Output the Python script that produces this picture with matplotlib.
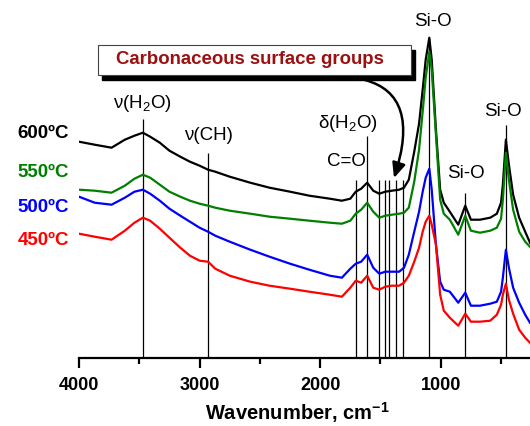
import matplotlib
matplotlib.use("Agg")
import matplotlib.pyplot as plt
from matplotlib.patches import Rectangle
from matplotlib.ticker import MultipleLocator

plt.rcParams['font.family'] = ['Liberation Sans', 'DejaVu Sans']
plt.rcParams['mathtext.fontset'] = 'custom'
plt.rcParams['mathtext.rm'] = 'Liberation Sans'
plt.rcParams['mathtext.it'] = 'Liberation Sans:italic'
plt.rcParams['mathtext.bf'] = 'Liberation Sans:bold'

# ---------------- data ----------------
wavenumber = [4000, 3870, 3730, 3620, 3540, 3470, 3410, 3330, 3250, 3160, 3080, 3000,
              2930, 2870, 2750, 2580, 2420, 2250, 2090, 1920, 1820, 1750, 1705, 1660,
              1610, 1560, 1510, 1460, 1405, 1345, 1305, 1265, 1220, 1180, 1150, 1125,
              1095, 1075, 1040, 1005, 975, 925, 855, 797, 750, 675, 590, 535, 500, 485,
              460, 435, 400, 350, 300, 260]

abs_600 = [2.16, 2.13, 2.10, 2.18, 2.22, 2.25, 2.21, 2.15, 2.07, 2.01, 1.96, 1.92,
           1.88, 1.86, 1.81, 1.75, 1.70, 1.66, 1.62, 1.59, 1.57, 1.59, 1.66, 1.69,
           1.75, 1.67, 1.64, 1.66, 1.67, 1.68, 1.70, 1.78, 2.06, 2.34, 2.68, 2.98,
           3.20, 2.98, 2.28, 1.68, 1.55, 1.46, 1.33, 1.52, 1.38, 1.38, 1.40, 1.44,
           1.55, 1.73, 2.18, 1.93, 1.63, 1.40, 1.26, 1.15]

abs_550 = [1.68, 1.67, 1.65, 1.72, 1.79, 1.83, 1.80, 1.73, 1.66, 1.61, 1.57, 1.54,
           1.52, 1.50, 1.47, 1.44, 1.41, 1.39, 1.37, 1.35, 1.34, 1.37, 1.44, 1.48,
           1.55, 1.46, 1.40, 1.42, 1.43, 1.44, 1.45, 1.50, 1.76, 2.08, 2.46, 2.80,
           3.06, 2.88, 2.23, 1.58, 1.44, 1.38, 1.23, 1.42, 1.27, 1.25, 1.27, 1.30,
           1.39, 1.58, 2.05, 1.78, 1.48, 1.26, 1.16, 1.11]

abs_500 = [1.61, 1.55, 1.53, 1.60, 1.66, 1.68, 1.64, 1.57, 1.49, 1.42, 1.36, 1.30,
           1.26, 1.22, 1.16, 1.08, 1.01, 0.94, 0.88, 0.82, 0.80, 0.89, 0.94, 0.96,
           1.03, 0.90, 0.84, 0.86, 0.86, 0.86, 0.90, 1.03, 1.26, 1.46, 1.66, 1.80,
           1.89, 1.68, 1.13, 0.76, 0.68, 0.66, 0.55, 0.65, 0.52, 0.52, 0.54, 0.56,
           0.66, 0.80, 1.08, 0.90, 0.70, 0.55, 0.43, 0.35]

abs_450 = [1.24, 1.21, 1.18, 1.27, 1.35, 1.40, 1.37, 1.29, 1.20, 1.10, 1.02, 0.97,
           0.96, 0.89, 0.82, 0.76, 0.72, 0.69, 0.66, 0.63, 0.61, 0.70, 0.77, 0.75,
           0.82, 0.70, 0.68, 0.71, 0.72, 0.72, 0.75, 0.82, 0.96, 1.10, 1.26, 1.36,
           1.42, 1.33, 1.13, 0.63, 0.47, 0.40, 0.32, 0.44, 0.36, 0.36, 0.37, 0.43,
           0.53, 0.63, 0.74, 0.58, 0.44, 0.28, 0.20, 0.15]

series_labels = ['600ºC', '550ºC', '500ºC', '450ºC']
series_colors = ['black', '#008000', '#0000ff', '#ff0000']

band_positions = [3470, 2930, 1705, 1610, 1510, 1465, 1430, 1375, 1315, 1095, 797, 460]
band_tops = [2.39, 2.05, 1.78, 2.22, 1.78, 1.78, 1.78, 1.78, 1.78, 3.20, 1.65, 2.33]

xticks_major = [4000, 3000, 2000, 1000]

# ---------------- figure ----------------
W, H = 530, 426
fig = plt.figure(figsize=(W / 100, H / 100), dpi=100)
ax_left, ax_bottom = 79 / W, (H - 357.7) / H
ax = fig.add_axes([ax_left, ax_bottom, 1 - ax_left, 1 - ax_bottom])
ax.patch.set_alpha(0)

ax.vlines(band_positions, 0, band_tops, colors='black', lw=0.9, zorder=1)

for ys, c in zip([abs_600, abs_550, abs_500, abs_450], series_colors):
    ax.plot(wavenumber, ys, color=c, lw=1.6, solid_joinstyle='round', zorder=2)

ax.set_xlim(4000, 260)
ax.set_ylim(0, 3.577)
for s in ['left', 'right', 'top']:
    ax.spines[s].set_visible(False)
ax.spines['bottom'].set_linewidth(1.6)
ax.set_yticks([])
ax.set_xticks(xticks_major)
ax.xaxis.set_minor_locator(MultipleLocator(500))
ax.tick_params(axis='x', which='major', length=7, width=1.6, direction='out',
               labelsize=13, pad=7)
ax.tick_params(axis='x', which='minor', length=4, width=1.6, direction='out')
for lab in ax.get_xticklabels():
    lab.set_fontweight('bold')


def fx(x):
    return x / W


def fy(y):
    return 1 - y / H


fig.text(fx(297), fy(413), 'Wavenumber, cm$^{\\mathbf{-1}}$', ha='center', va='center',
         fontsize=14.5, fontweight='bold')

# series labels
label_y = [133, 172, 207, 241]
for lab, c, yy in zip(series_labels, series_colors, label_y):
    fig.text(fx(69), fy(yy), lab, ha='right', va='center', fontsize=13.5,
             fontweight='bold', color=c)

# band annotations
ann = [("ν(H$_2$O)", 142, 104), ("ν(CH)", 208, 135), ("δ(H$_2$O)", 348, 123),
       ("C=O", 346, 162), ("Si-O", 433, 22), ("Si-O", 466, 174), ("Si-O", 503, 111)]
for t, xx, yy in ann:
    fig.text(fx(xx), fy(yy), t, ha='center', va='center', fontsize=13.5)

# box with shadow
fig.patches.append(Rectangle((fx(102), fy(80)), (415 - 102) / W, 30 / H,
                             transform=fig.transFigure, facecolor='black',
                             edgecolor='black', zorder=5))
fig.patches.append(Rectangle((fx(97.7), fy(75)), (410.7 - 97.7) / W, 30 / H,
                             transform=fig.transFigure, facecolor='white',
                             edgecolor='#444444', lw=0.8, zorder=6))
fig.text(fx(250), fy(60), 'Carbonaceous surface groups', ha='center', va='center',
         fontsize=13.4, fontweight='bold', color='#9b1010', zorder=7)

ax.annotate('', xy=(394, H - 178), xycoords='figure pixels',
            xytext=(365, H - 80), textcoords='figure pixels',
            arrowprops=dict(arrowstyle='-|>,head_length=0.9,head_width=0.4',
                            connectionstyle='angle3,angleA=-15,angleB=72',
                            color='black', lw=1.8, shrinkA=0, shrinkB=0),
            annotation_clip=False)

fig.savefig('out.png', dpi=100)
